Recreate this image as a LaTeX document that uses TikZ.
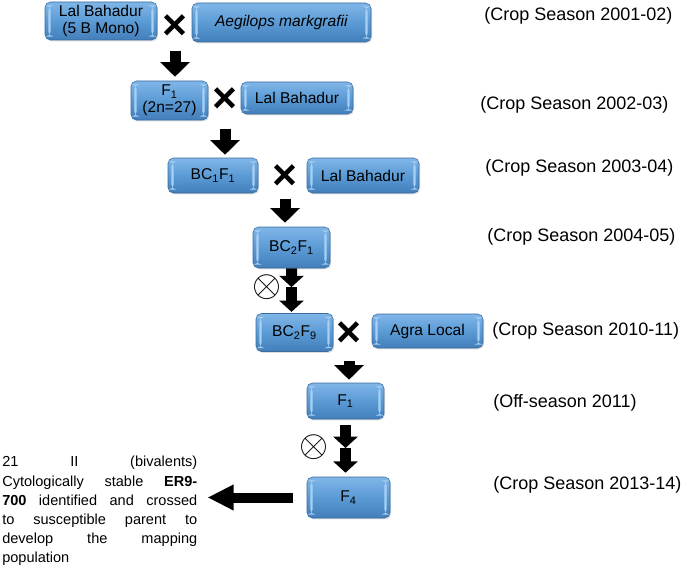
\documentclass[tikz,border=0pt]{standalone}
\usepackage{fontspec}
\setmainfont{Liberation Sans}
\usepackage{tikz}
\usetikzlibrary{arrows.meta, calc, shadows}

\definecolor{boxtop}{RGB}{128,182,232}
\definecolor{boxmid}{RGB}{91,155,213}
\definecolor{boxbot}{RGB}{66,126,186}
\definecolor{boxline}{RGB}{58,108,158}
\definecolor{boxhi}{RGB}{168,208,244}

\tikzset{
  gen/.style={rounded corners=4pt, draw=boxline, line width=0.4pt,
    top color=boxtop, bottom color=boxbot, middle color=boxmid,
    font=\fontsize{11.7}{12.8}\selectfont, align=center, inner sep=1pt,
    drop shadow={opacity=0.25, shadow xshift=0.8pt, shadow yshift=-1pt},
    path picture={
      \fill[boxhi] ($(path picture bounding box.north west)+(2.5pt,-2.5pt)$) rectangle ($(path picture bounding box.south west)+(4.3pt,2.5pt)$);
      \fill[boxhi] ($(path picture bounding box.north east)+(-2.5pt,-2.5pt)$) rectangle ($(path picture bounding box.south east)+(-4.3pt,2.5pt)$);
    }},
  crossmark/.style={font=\fontsize{32}{32}\selectfont\bfseries, inner sep=0pt, minimum size=13.5pt},
  selfmark/.style={font=\fontsize{20.74}{21}\selectfont, inner sep=0pt, scale=1.35},
  season/.style={font=\fontsize{13.5}{16}\selectfont, anchor=west, inner sep=0pt},
  note/.style={font=\fontsize{10.9}{14.4}\selectfont, text width=146.25pt, align=justify, anchor=north west, inner sep=0pt},
  blockarrow/.style={line width=8.25pt, -{Triangle[width=21.75pt, length=11pt]}},
  selfarrow/.style={line width=8.25pt, -{Triangle[width=18pt, length=8.5pt]}},
  sidearrow/.style={line width=7.5pt, -{Triangle[width=18pt, length=19.5pt]}}
}

\begin{document}
\begin{tikzpicture}[x=0.75pt, y=-0.75pt]
    \useasboundingbox (0,0) rectangle (685,567);
    % Parents and generations
    \node[gen, minimum width=84pt, minimum height=28.5pt] (lb1) at (101,21) {Lal Bahadur\\(5 B Mono)};
    \node[gen, minimum width=134.25pt, minimum height=29.25pt] (ae) at (281.5,22.5) {\textit{Aegilops markgrafii}};
    \node[gen, minimum width=57.75pt, minimum height=29.25pt] (f1a) at (169.5,100.5) {F\textsubscript{1}\\(2n=27)};
    \node[gen, minimum width=84pt, minimum height=24pt] (lb2) at (297,98) {Lal Bahadur};
    \node[gen, minimum width=67.5pt, minimum height=26.25pt] (bc1) at (213,175.5) {BC\textsubscript{1}F\textsubscript{1}};
    \node[gen, minimum width=84pt, minimum height=26.25pt] (lb3) at (363,175.5) {Lal Bahadur};
    \node[gen, minimum width=57.75pt, minimum height=30.75pt] (bc2) at (291.5,247.5) {BC\textsubscript{2}F\textsubscript{1}};
    \node[gen, minimum width=57.75pt, minimum height=28.5pt] (bc9) at (294.5,332.5) {BC\textsubscript{2}F\textsubscript{9}};
    \node[gen, minimum width=83.25pt, minimum height=25.5pt] (agra) at (427.5,331) {Agra Local};
    \node[gen, minimum width=57.75pt, minimum height=27pt] (f1b) at (345.5,401) {F\textsubscript{1}};
    \node[gen, minimum width=62.25pt, minimum height=30.75pt] (f4) at (348.5,497.5) {F\textsubscript{4}};
    % Crosses and selfing
    \foreach \n/\x/\y in {x1/175/27, x2/225/100, x3/285/177, x4/349/334} {\node[crossmark] (\n) at (\x,\y) {×};}
    \node[selfmark] (s1) at (267,287) {$\otimes$};
    \node[selfmark] (s2) at (314,447) {$\otimes$};
    % Arrows
    \draw[blockarrow, shorten <=8.25pt, shorten >=3pt] (x1.south) -- (f1a.north -| x1.south);
    \draw[blockarrow, shorten <=12pt, shorten >=2.25pt] (x2.south) -- (bc1.north -| x2.south);
    \draw[blockarrow, shorten <=6.75pt, shorten >=3pt] (x3.south) -- (bc2.north -| x3.south);
    \coordinate (m1) at ($(bc2.south)!0.42!(bc2.south |- bc9.north)$);
    \draw[selfarrow] (bc2.south) -- (m1);
    \draw[selfarrow, shorten >=1pt] (m1) -- (m1 |- bc9.north);
    \draw[blockarrow, shorten <=10.5pt, shorten >=2.25pt] (x4.south) -- (f1b.north -| x4.south);
    \coordinate (m2) at ($(f1b.south)!0.5!(f1b.south |- f4.north)$);
    \draw[selfarrow, shorten <=4.5pt] (f1b.south) -- (m2);
    \draw[selfarrow, shorten >=3pt] (m2) -- (m2 |- f4.north);
    % Result
    \node[note] (note) at (2,456) {21 II (bivalents)\linebreak Cytologically stable \textbf{ER9-}\linebreak \textbf{700} identified and crossed\linebreak to susceptible parent to\linebreak develop the mapping\linebreak population};
    \draw[sidearrow, shorten <=10.5pt, shorten >=7.5pt] (f4.west) -- (f4.west -| note.east);
    % Seasons
    \foreach \x/\y/\t [count=\i] in {484/16/{(Crop Season 2001-02)}, 480/105/{(Crop Season 2002-03)}, 485/168/{(Crop Season 2003-04)}, 487/237/{(Crop Season 2004-05)}, 492/331/{(Crop Season 2010-11)}, 493/403/{(Off-season 2011)}, 493/485/{(Crop Season 2013-14)}} {\node[season] (yr\i) at (\x,\y) {\t};}
\end{tikzpicture}
\end{document}
